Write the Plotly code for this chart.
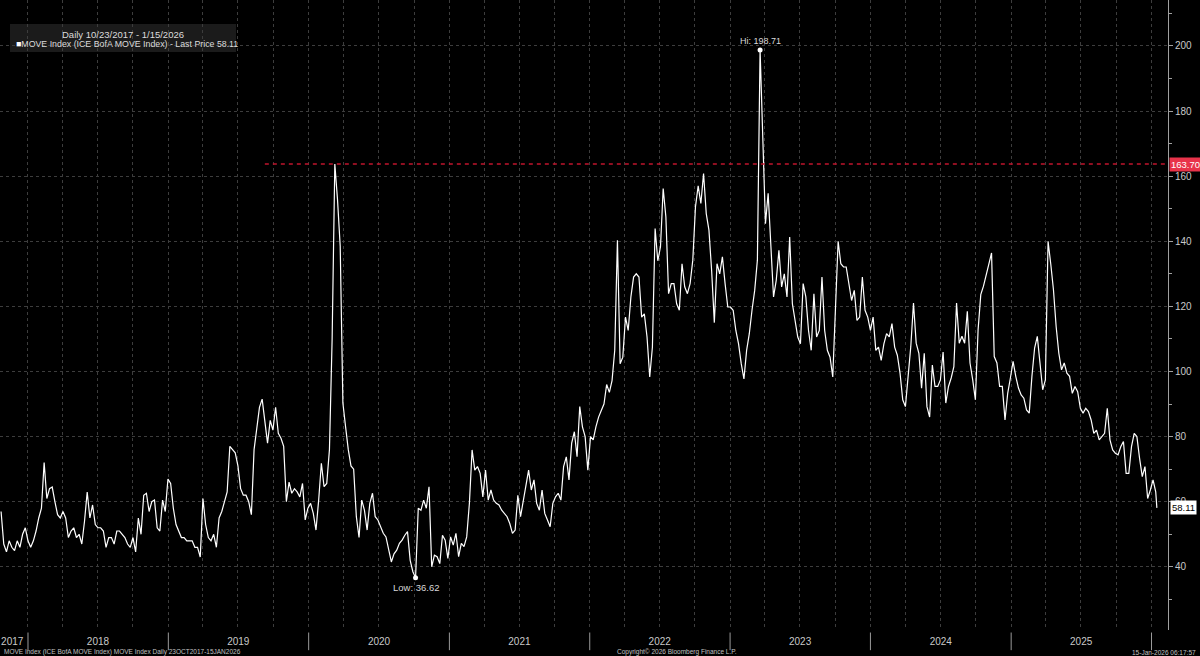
import pandas as pd
import plotly.graph_objects as go

# Weekly readings (Mondays from 23 Oct 2017)
move_2017_2019 = [
    57, 47, 44.6, 48, 46, 45, 48, 46, 50, 52, 48, 46, 48, 51, 55, 58, 72, 61, 64, 64.5,
    60, 56, 55, 57, 55, 49, 51, 52, 49, 50, 47, 54, 63, 55, 59, 53, 52, 52, 51, 46,
    49, 49, 47, 51, 51, 50, 49, 47, 46, 49, 44.6, 55, 50, 62, 62.6, 57, 60, 60.5, 52, 51,
    60.5, 57, 67, 65.6, 58, 53, 51, 49, 49, 48, 48, 48, 46, 46, 43, 61, 53, 49, 48, 50,
    46, 55, 57, 60, 63, 77, 76, 75, 71, 64, 62, 62, 60, 56, 76, 82, 89, 91.5, 84, 78,
    85, 82, 89, 81, 79.5, 77, 60, 66, 62.6, 64, 63,
]
move_2019_2022 = [
    61.5, 65.6, 54.4, 58, 59.5, 56.4, 51.3, 60.5, 71.8, 64.6, 65.6, 76, 110, 163.7, 152.8, 138.5, 90.3, 83, 76, 71,
    70, 55.4, 49, 60.5, 57.4, 51.3, 59.5, 62.6, 55.4, 54.4, 52.3, 50.3, 49.2, 45.1, 41.5, 44, 45.1, 47.2, 48.2, 49.7,
    50.8, 42, 38.5, 36.62, 58, 57.4, 60.5, 58, 64.6, 40, 43.6, 43.1, 41, 49.7, 48.2, 42.6, 49.2, 46.7, 50.3, 43.1,
    47.2, 46.2, 49.2, 59.5, 75.9, 69.7, 70.8, 68.7, 61.5, 69.7, 60.5, 63.6, 60.5, 59.5, 59, 57.4, 56.4, 55.4, 53.3, 50.3,
    51.3, 62, 55.4, 60.5, 65.6, 69.7, 63.6, 66.7, 59.5, 57.4, 63.6, 56.4, 54.4, 52.3, 59.5, 61.5, 62.6, 60.5, 70.8, 73.8,
    66.7, 78, 81.5, 73.8, 89.2, 83, 80, 69.7, 80, 79, 83,
]
move_2022_2024 = [
    86, 88, 90, 96, 93.6, 97.2, 106.5, 140.3, 102.4, 104.4, 116.7, 112.6, 122.9, 129, 130, 129, 116.7, 117.7, 110.6, 98.3,
    107.5, 143.9, 134, 138.3, 156.2, 147.5, 123.9, 127, 127, 120.8, 118.8, 133.1, 126, 123.9, 127, 134.2, 150.6, 157, 151.6, 160.8,
    148.5, 143.4, 131, 115, 133.1, 130, 135.2, 127, 119.8, 119.8, 118.8, 112.6, 108.5, 102.4, 97.7, 106.5, 111.6, 118.8, 124.9, 134.2,
    198.71, 172, 145.4, 154.7, 138.3, 122.9, 128, 137.2, 126, 130, 122.9, 141.3, 120.8, 115.7, 110.6, 108.5, 127, 122.9, 112.6, 106.5,
    123.9, 110.6, 112.6, 129, 112.6, 106.5, 104.4, 98.3, 120.8, 140, 133.1, 132.1, 132.1, 127, 121.8, 124.9, 115.7, 116.7, 129, 118.8,
    116.7, 112.6, 116.7, 106.5, 107.5, 103.4, 108.5, 111.6, 110.6, 114.7, 107.5,
]
move_2024_2026 = [
    105, 99.5, 91.3, 89.2, 98.5, 107.7, 121, 108.7, 105.6, 94.9, 105.6, 89.2, 86, 102, 95.4, 95.4, 97.4, 106, 90.3, 95.4,
    98, 101.5, 121, 108.7, 110.8, 108.7, 118.5, 102.6, 97.4, 91.3, 112.8, 123.6, 126.2, 129.7, 133.3, 136.4, 104.6, 102.6, 95.4, 95.4,
    85.1, 93.3, 98, 103.1, 98.5, 94.9, 92.8, 91.8, 88.2, 87.2, 98.5, 107.2, 110.8, 103.6, 94.4, 97.4, 140, 133, 125.1, 113.8,
    105.6, 100.5, 102.6, 99.5, 98.5, 93.3, 95.4, 93.8, 88.7, 87.2, 88.7, 87.7, 85.1, 81, 82, 79, 80, 81, 88.7, 79,
    75.9, 74.9, 74.4, 76.9, 78.5, 68.7, 68.7, 76.9, 81, 80, 73.3, 67.7, 70.8, 61, 63.6, 66.7, 63, 58.11,
]

values = move_2017_2019 + move_2019_2022 + move_2022_2024 + move_2024_2026
week_dates = list(pd.date_range("2017-10-23", "2026-01-12", freq="7D").strftime("%Y-%m-%d"))
last_date = "2026-01-15"
dates = week_dates + [last_date]
assert len(dates) == len(values), (len(dates), len(values))

reference_level = 163.70
reference_start = "2019-09-09"
year_labels = ["2017", "2018", "2019", "2020", "2021", "2022", "2023", "2024", "2025"]
year_label_dates = ["2017-11-21"] + [f"{y}-07-02" for y in range(2018, 2026)]
year_starts = [f"{y}-01-01" for y in range(2018, 2027)]
quarter_starts = list(pd.date_range("2018-01-01", "2026-01-01", freq="QS").strftime("%Y-%m-%d"))
y_ticks = [40, 60, 80, 100, 120, 140, 160, 180, 200]

x_range = ["2017-10-20 05:00", "2026-02-12 22:00"]
y_range = [20.6, 214.1]

hi_i = max(range(len(values)), key=lambda k: values[k])
lo_i = min(range(len(values)), key=lambda k: values[k])
last_val = values[-1]

FONT = "Liberation Sans"
GRID = "#3d3d3d"
LABEL = "#c9c9c9"

fig = go.Figure()
fig.add_trace(go.Scatter(x=dates, y=values, mode="lines",
                         line=dict(color="#ffffff", width=1.2), hoverinfo="skip", showlegend=False))
fig.add_trace(go.Scatter(x=[dates[hi_i], dates[lo_i]], y=[values[hi_i], values[lo_i]], mode="markers",
                         marker=dict(color="#ffffff", size=5), hoverinfo="skip", showlegend=False))

shapes = []
# red reference line
shapes.append(dict(type="line", xref="x", yref="y", x0=reference_start, x1=x_range[1],
                   y0=reference_level, y1=reference_level,
                   line=dict(color="#c0142c", width=1.5, dash="4px,4px")))
# year separators below axis
for d in year_starts:
    shapes.append(dict(type="line", xref="x", yref="paper", x0=d, x1=d, y0=-0.004, y1=-0.032,
                       line=dict(color="#9a9a9a", width=1)))
# legend box
shapes.append(dict(type="rect", xref="paper", yref="paper", x0=10/1168, x1=236/1168,
                   y0=1-52/630, y1=1-24/630, fillcolor="#1b1b1b", line=dict(width=0), layer="below"))

annotations = [
    dict(xref="paper", yref="paper", x=123/1168, y=1-34/630, text="Daily 10/23/2017 - 1/15/2026",
         showarrow=False, xanchor="center", yanchor="middle", font=dict(family=FONT, size=9.5, color="#dcdcdc")),
    dict(xref="paper", yref="paper", x=14/1168, y=1-44/630,
         text=f"<span style='color:#ffffff'>■</span>MOVE Index (ICE BofA MOVE Index) - Last Price {last_val:.2f}",
         showarrow=False, xanchor="left", yanchor="middle", font=dict(family=FONT, size=8.8, color="#dcdcdc")),
    dict(x=dates[hi_i], y=values[hi_i], text=f"Hi: {values[hi_i]:.2f}", showarrow=False,
         yanchor="bottom", yshift=2, font=dict(family=FONT, size=9, color="#d8d8d8")),
    dict(x=dates[lo_i], y=values[lo_i], text=f"Low: {values[lo_i]:.2f}", showarrow=False,
         yanchor="top", yshift=-2, font=dict(family=FONT, size=9.5, color="#d8d8d8")),
    dict(xref="paper", yref="y", x=1, y=reference_level, text=f"{reference_level:.2f}", showarrow=False,
         xanchor="left", xshift=1, bgcolor="#e8334a", borderpad=1,
         font=dict(family=FONT, size=9.5, color="#ffffff")),
    dict(xref="paper", yref="y", x=1, y=last_val, text=f"{last_val:.2f}", showarrow=False,
         xanchor="left", xshift=2, bgcolor="#ffffff", borderpad=1,
         font=dict(family=FONT, size=9.5, color="#000000")),
    dict(xref="paper", yref="paper", x=2/1168, y=-22/630, text="MOVE Index (ICE BofA MOVE Index) MOVE Index Daily 23OCT2017-15JAN2026",
         showarrow=False, xanchor="left", yanchor="middle", font=dict(family=FONT, size=6.5, color="#c0c0c0")),
    dict(xref="paper", yref="paper", x=677/1168, y=-22/630, text="Copyright© 2026 Bloomberg Finance L.P.",
         showarrow=False, xanchor="center", yanchor="middle", font=dict(family=FONT, size=6.5, color="#c0c0c0")),
    dict(xref="paper", yref="paper", x=1198/1168, y=-22/630, text="15-Jan-2026 06:17:57",
         showarrow=False, xanchor="right", yanchor="middle", font=dict(family=FONT, size=6.5, color="#c0c0c0")),
]

fig.update_layout(
    width=1200, height=656,
    margin=dict(l=0, r=32, t=0, b=26),
    paper_bgcolor="#000000", plot_bgcolor="#000000",
    showlegend=False,
    shapes=shapes, annotations=annotations,
    xaxis=dict(range=x_range, type="date",
               tickmode="array", tickvals=year_label_dates, ticktext=year_labels, ticks="",
               showgrid=False, zeroline=False, showline=False,
               tickfont=dict(family=FONT, size=10, color=LABEL), ticklabelstandoff=4,
               minor=dict(tickmode="array", tickvals=quarter_starts, showgrid=True,
                          gridcolor=GRID, griddash="dot", gridwidth=1, ticks="")),
    yaxis=dict(range=y_range, side="right", tickmode="array", tickvals=y_ticks,
               showgrid=True, gridcolor=GRID, griddash="dot", gridwidth=1, zeroline=False,
               showline=True, linecolor="#a0a0a0", linewidth=1,
               ticks="outside", ticklen=4, tickcolor="#a0a0a0",
               tickfont=dict(family=FONT, size=10, color=LABEL),
               minor=dict(dtick=10, ticks="outside", ticklen=3, tickcolor="#a0a0a0", showgrid=False)),
)

fig.write_html("out.html", config={"displayModeBar": False},
               post_script="document.body.style.margin='0';document.body.style.background='#000';")
